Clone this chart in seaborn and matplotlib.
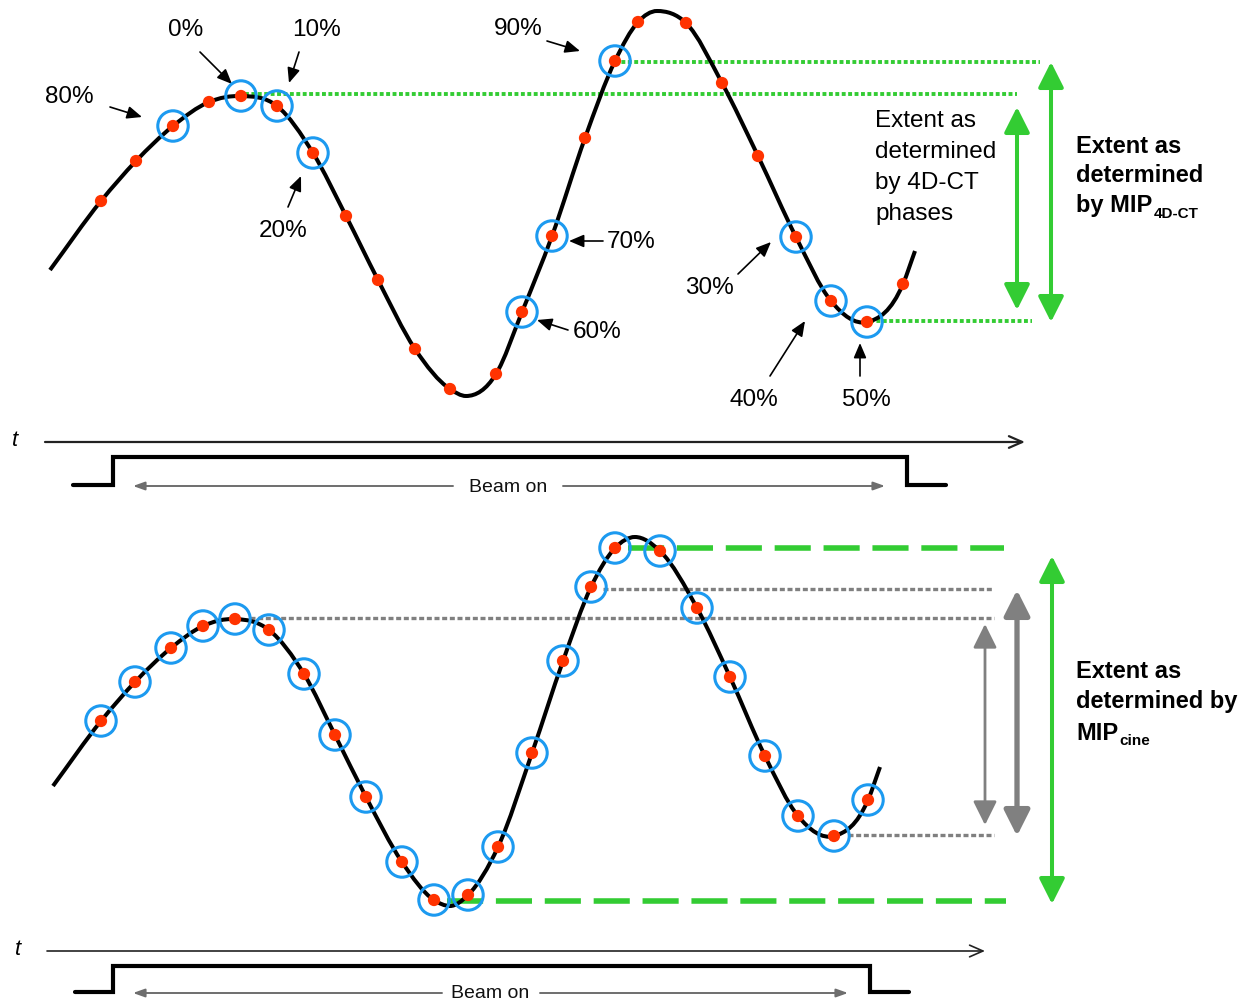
import numpy as np
import matplotlib
matplotlib.use("Agg")
import matplotlib.pyplot as plt
from matplotlib.path import Path
from matplotlib.patches import PathPatch, FancyArrowPatch
import seaborn as sns

# ---------------- data ----------------
# Upper trace: breathing curve sampled at 4D-CT phases (pixel-space canvas)
top_dot_x = [101, 136, 173, 209, 241, 277, 313, 346, 378, 415, 450, 496,
             522, 552, 585, 615, 638, 686, 722, 758, 796, 831, 867, 903]
top_dot_y = [202, 162, 127, 103, 97, 107, 154, 217, 281, 350, 390, 375,
             313, 237, 139, 62, 23, 24, 84, 157, 238, 302, 323, 285]
top_dot_circled = [0, 0, 1, 0, 1, 1, 1, 0, 0, 0, 0, 0,
                   1, 1, 0, 1, 0, 0, 0, 0, 1, 1, 1, 0]
# trace start, trough, crest, trace end
top_knot_x = [50, 466, 657, 915]
top_knot_y = [271, 397, 12, 252]
top_knot_flat = [0, 1, 1, 0]

# Lower trace: cine acquisition, every sample imaged
cine_dot_x = [101, 135, 171, 203, 235, 269, 304, 335, 366, 402, 434, 468,
              498, 532, 563, 591, 615, 660, 697, 730, 765, 798, 834, 868]
cine_dot_y = [722, 683, 649, 627, 620, 631, 675, 736, 798, 863, 901, 896,
              848, 754, 662, 588, 549, 552, 609, 678, 757, 817, 837, 801]
cine_knot_x = [53, 450, 635, 880]
cine_knot_y = [787, 907, 538, 768]
cine_knot_flat = [0, 1, 1, 0]

phase_labels = ["80%", "0%", "10%", "20%", "60%", "70%", "90%", "30%", "40%", "50%"]

# ---------------- layout ----------------
label_pos = [(69, 97), (186, 30), (317, 30), (283, 231), (597, 332),
             (631, 242), (518, 29), (709, 288), (754, 400), (866, 400)]
arrow_tail = [(110, 108), (200, 53), (299, 53), (288, 208), (568, 331),
              (603, 242), (547, 42), (738, 275), (770, 377), (860, 377)]
arrow_head = [(142, 118), (232, 85), (289, 84), (301, 177), (537, 321),
              (569, 242), (580, 52), (771, 243), (805, 322), (860, 344)]

BLACK = "#000000"
RED = "#ff3300"
BLUE = "#1c9af0"
GREEN = "#33cc33"
GRAY = "#808080"

sns.set_theme(style="white")
plt.rcParams["font.family"] = ["Liberation Sans", "DejaVu Sans"]
plt.rcParams["text.color"] = BLACK

fig = plt.figure(figsize=(12.53, 10.03), dpi=100)
ax = fig.add_axes([0, 0, 1, 1])
ax.set_xlim(0, 1253)
ax.set_ylim(1003, 0)
ax.axis("off")


def smooth_path(xs, ys, flat):
    """Cubic Hermite path through the vertices; flat vertices get zero slope."""
    xs = np.asarray(xs, float)
    ys = np.asarray(ys, float)
    h = np.diff(xs)
    d = np.diff(ys) / h
    m = np.empty_like(ys)
    m[0], m[-1] = d[0], d[-1]
    m[1:-1] = (d[:-1] * h[1:] + d[1:] * h[:-1]) / (h[:-1] + h[1:])
    m[np.asarray(flat, bool)] = 0.0
    verts = [(xs[0], ys[0])]
    codes = [Path.MOVETO]
    for i in range(len(xs) - 1):
        dx = h[i] / 3.0
        verts += [(xs[i] + dx, ys[i] + m[i] * dx),
                  (xs[i + 1] - dx, ys[i + 1] - m[i + 1] * dx),
                  (xs[i + 1], ys[i + 1])]
        codes += [Path.CURVE4] * 3
    return Path(verts, codes)


def draw_trace(dot_x, dot_y, knot_x, knot_y, knot_flat, circled):
    xs = np.array(list(dot_x) + list(knot_x))
    ys = np.array(list(dot_y) + list(knot_y))
    fl = np.array([0] * len(dot_x) + list(knot_flat))
    order = np.argsort(xs)
    ax.add_patch(PathPatch(smooth_path(xs[order], ys[order], fl[order]),
                           fc="none", ec=BLACK, lw=2.9, capstyle="butt",
                           zorder=3))
    cx = [x for x, c in zip(dot_x, circled) if c]
    cy = [y for y, c in zip(dot_y, circled) if c]
    sns.scatterplot(x=cx, y=cy, ax=ax, s=480, facecolors="none",
                    edgecolor=BLUE, linewidth=2.2, zorder=4, legend=False)
    sns.scatterplot(x=dot_x, y=dot_y, ax=ax, s=78, color=RED,
                    edgecolor="none", linewidth=0, zorder=5, legend=False)


def double_arrow(x, y1, y2, color, lw, hl=15.5, hw=7.8):
    ax.add_patch(FancyArrowPatch((x, y1), (x, y2),
                                 arrowstyle=f"<|-|>,head_length={hl},head_width={hw}",
                                 mutation_scale=1, lw=lw, color=color,
                                 shrinkA=0, shrinkB=0, zorder=3))


def time_axis(y, x0, x1, lw):
    ax.annotate("", xy=(x1, y), xytext=(x0, y),
                arrowprops=dict(arrowstyle="->,head_length=0.8,head_width=0.35",
                                color="#222222", lw=lw, shrinkA=0, shrinkB=0,
                                mutation_scale=12))


def beam_pulse(y_low, y_high, x0, x_on, x_off, x1, text_x, gap_l, gap_r):
    ax.plot([x0, x_on, x_on, x_off, x_off, x1],
            [y_low, y_low, y_high, y_high, y_low, y_low],
            color=BLACK, lw=3.0, solid_joinstyle="miter")
    ax.text(text_x, y_low + 1, "Beam on", fontsize=14, ha="center",
            va="center", color="#111111")
    for xs, xe in [(text_x - gap_l, x_on + 20), (text_x + gap_r, x_off - 22)]:
        ax.annotate("", xy=(xe, y_low + 1), xytext=(xs, y_low + 1),
                    arrowprops=dict(arrowstyle="-|>,head_length=0.7,head_width=0.25",
                                    color="#6e6e6e", lw=1.4, shrinkA=0,
                                    shrinkB=0, mutation_scale=10))


def sub_label(x, y, main, sub, size, sub_size, drop):
    t = ax.text(x, y, main, fontsize=size, fontweight="bold", ha="left",
                va="baseline", color=BLACK)
    fig.canvas.draw()
    bb = t.get_window_extent(renderer=fig.canvas.get_renderer())
    xr = ax.transData.inverted().transform((bb.x1, bb.y0))[0]
    ax.text(xr + 1, y + drop, sub, fontsize=sub_size, fontweight="bold",
            ha="left", va="baseline", color=BLACK)


# ---------------- upper panel ----------------
draw_trace(top_dot_x, top_dot_y, top_knot_x, top_knot_y, top_knot_flat,
           top_dot_circled)

green_dots = (0, (1.0, 0.65))
ax.plot([615, 1040], [63, 63], color=GREEN, lw=2.8, ls=green_dots, zorder=1)
ax.plot([245, 1017], [95, 95], color=GREEN, lw=2.8, ls=green_dots, zorder=1)
ax.plot([870, 1032], [322, 322], color=GREEN, lw=2.8, ls=green_dots, zorder=1)

double_arrow(1017, 108, 311, GREEN, 2.9)
double_arrow(1051, 63, 323, GREEN, 2.9)

for lab, (lx, ly), tail, head in zip(phase_labels, label_pos, arrow_tail, arrow_head):
    ax.text(lx, ly, lab, fontsize=17.5, ha="center", va="center", color=BLACK)
    ax.annotate("", xy=head, xytext=tail,
                arrowprops=dict(arrowstyle="-|>,head_length=0.75,head_width=0.32",
                                color=BLACK, lw=1.2, shrinkA=0, shrinkB=0,
                                mutation_scale=12))

for line, yb in zip(["Extent as", "determined", "by 4D-CT", "phases"],
                    [127, 158, 189, 220]):
    ax.text(875, yb, line, fontsize=17.5, ha="left", va="baseline", color=BLACK)

ax.text(1076, 153, "Extent as", fontsize=17, fontweight="bold",
        va="baseline", color=BLACK)
ax.text(1076, 182, "determined", fontsize=17, fontweight="bold",
        va="baseline", color=BLACK)
sub_label(1076, 212, "by MIP", "4D-CT", 17, 11, 6)

ax.text(15, 441, "t", fontsize=16, fontstyle="italic", ha="center",
        va="center", color=BLACK)
time_axis(443, 45, 1025, 1.6)
beam_pulse(486, 458, 73, 113, 907, 946, 508, 55, 55)

# ---------------- lower panel ----------------
draw_trace(cine_dot_x, cine_dot_y, cine_knot_x, cine_knot_y, cine_knot_flat,
           [1] * len(cine_dot_x))

gray_dots = (0, (1.5, 0.8))
ax.plot([250, 994], [619, 619], color=GRAY, lw=2.4, ls=gray_dots, zorder=1)
ax.plot([603, 994], [590, 590], color=GRAY, lw=2.4, ls=gray_dots, zorder=1)
ax.plot([848, 994], [836, 836], color=GRAY, lw=2.4, ls=gray_dots, zorder=1)

green_dash = (0, (6.5, 2.3))
ax.plot([628, 1004], [549, 549], color=GREEN, lw=4.0, ls=green_dash, zorder=1)
ax.plot([447, 1006], [902, 902], color=GREEN, lw=4.0, ls=green_dash, zorder=1)

double_arrow(985, 625, 826, GRAY, 2.0, hl=14.5, hw=7.2)
double_arrow(1017, 591, 837, GRAY, 3.8)
double_arrow(1052, 557, 905, GREEN, 2.9)

ax.text(1076, 678, "Extent as", fontsize=17, fontweight="bold",
        va="baseline", color=BLACK)
ax.text(1076, 708, "determined by", fontsize=17, fontweight="bold",
        va="baseline", color=BLACK)
sub_label(1076, 740, "MIP", "cine", 17, 11, 5)

ax.text(18, 950, "t", fontsize=16, fontstyle="italic", ha="center",
        va="center", color=BLACK)
time_axis(952, 47, 985, 1.2)
beam_pulse(993, 967, 75, 113, 870, 909, 490, 48, 50)

fig.savefig("out.png", dpi=100)
